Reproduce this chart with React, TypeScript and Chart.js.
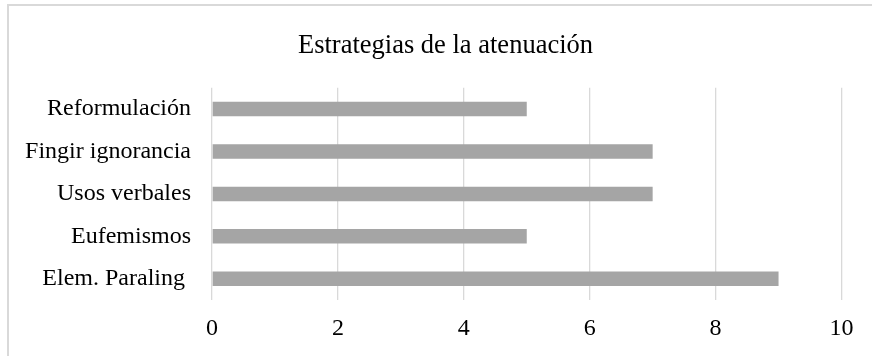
import React, { useEffect, useRef } from "react";
import { Chart, registerables } from "chart.js";

Chart.register(...registerables);

const title = "Estrategias de la atenuación";
const categories = ["Reformulación", "Fingir ignorancia", "Usos verbales", "Eufemismos", "Elem. Paraling "];
const values = [5, 7, 7, 5, 9];
const xMin = 0;
const xMax = 10;
const xStep = 2;

const FONT = "'Liberation Serif', 'Times New Roman', serif";

const centerTitle = {
  id: "centerTitle",
  afterLayout(chart: any) {
    if (chart.titleBlock) {
      chart.titleBlock.left = 0;
      chart.titleBlock.right = chart.width;
    }
  },
};

export default function App() {
  const ref = useRef<HTMLCanvasElement | null>(null);

  useEffect(() => {
    if (!ref.current) return;
    const chart = new Chart(ref.current, {
      type: "bar",
      data: {
        labels: categories,
        datasets: [
          {
            data: values,
            backgroundColor: "#a5a5a5",
            borderWidth: 0,
            categoryPercentage: 1,
            barPercentage: 0.342,
          },
        ],
      },
      plugins: [centerTitle],
      options: {
        indexAxis: "y",
        animation: false,
        responsive: false,
        maintainAspectRatio: false,
        layout: { padding: { left: 0, right: 49.5, top: 0, bottom: 0 } },
        plugins: {
          legend: { display: false },
          tooltip: { enabled: false },
          title: {
            display: true,
            text: title,
            color: "#000",
            font: { family: FONT, size: 26.5, weight: "normal" },
            padding: { top: 30, bottom: 26 },
          },
        },
        scales: {
          x: {
            min: xMin,
            max: xMax,
            ticks: {
              stepSize: xStep,
              color: "#000",
              font: { family: FONT, size: 24 },
              padding: 14,
              maxRotation: 0,
            },
            grid: { color: "#d9d9d9", drawTicks: false, lineWidth: 1.3 },
            border: { display: false },
            afterFit: (scale: any) => {
              scale.height = 56;
            },
          },
          y: {
            ticks: {
              color: "#000",
              font: { family: FONT, size: 24 },
              padding: 21,
            },
            grid: { display: false, drawTicks: false },
            border: { display: false },
            afterFit: (scale: any) => {
              scale.width = 212;
            },
          },
        },
      },
    });
    return () => chart.destroy();
  }, []);

  return (
    <div
      style={{
        position: "fixed",
        left: 0,
        top: 0,
        width: 872,
        height: 356,
        overflow: "hidden",
        background: "#fff",
      }}
    >
      <div
        style={{
          position: "absolute",
          left: 7,
          top: 4,
          width: 900,
          height: 400,
          border: "2px solid #d9d9d9",
          boxSizing: "border-box",
        }}
      />
      <canvas
        ref={ref}
        width={891}
        height={356}
        style={{ position: "absolute", left: 0, top: 0, width: 891, height: 356 }}
      />
    </div>
  );
}
